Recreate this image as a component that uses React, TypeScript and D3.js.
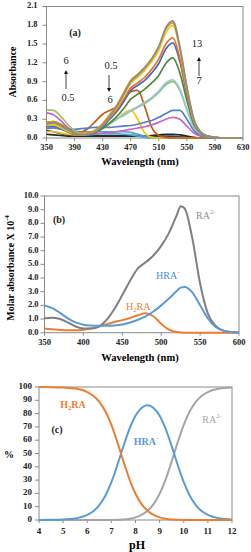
import * as d3 from 'd3'

// ---- panel (a): absorbance spectra at different pH ----
const WL_A = [350, 360, 370, 380, 390, 400, 410, 420, 430, 440, 450, 460, 470, 480, 490, 500, 510, 520, 530, 540, 550, 560, 570, 580, 590, 600, 610, 620, 630]
const A_X_TICKS = [350, 390, 430, 470, 510, 550, 590, 630]
const A_Y_TICKS = [0, 0.3, 0.6, 0.9, 1.2, 1.5, 1.8, 2.1]

const ABS_NAVY = [0.12, 0.1, 0.07, 0.05, 0.04, 0.04, 0.04, 0.04, 0.04, 0.04, 0.04, 0.04, 0.04, 0.04, 0.03, 0.03, 0.03, 0.03, 0.03, 0.02, 0.01, 0, 0, 0, 0, 0, 0, 0, 0]
const ABS_BLACK = [0.06, 0.05, 0.04, 0.03, 0.03, 0.03, 0.03, 0.03, 0.03, 0.03, 0.03, 0.03, 0.03, 0.03, 0.03, 0.04, 0.05, 0.06, 0.06, 0.05, 0.03, 0.01, 0, 0, 0, 0, 0, 0, 0]
const ABS_TEAL = [0.2, 0.2, 0.15, 0.1, 0.06, 0.05, 0.05, 0.06, 0.07, 0.07, 0.07, 0.06, 0.05, 0.03, 0.01, 0, 0, 0, 0, 0, 0, 0, 0, 0, 0, 0, 0, 0, 0]
const ABS_SKY = [0.18, 0.17, 0.14, 0.12, 0.11, 0.1, 0.1, 0.1, 0.1, 0.1, 0.1, 0.1, 0.09, 0.06, 0.03, 0.01, 0, 0, 0, 0, 0, 0, 0, 0, 0, 0, 0, 0, 0]
const ABS_GOLD_ACID = [0.1, 0.1, 0.08, 0.06, 0.05, 0.05, 0.07, 0.1, 0.15, 0.22, 0.3, 0.39, 0.44, 0.3, 0.08, 0.01, 0, 0, 0, 0, 0, 0, 0, 0, 0, 0, 0, 0, 0]
const ABS_BROWN = [0.25, 0.26, 0.22, 0.15, 0.1, 0.1, 0.16, 0.27, 0.38, 0.44, 0.5, 0.6, 0.74, 0.76, 0.5, 0.17, 0.04, 0.01, 0, 0, 0, 0, 0, 0, 0, 0, 0, 0, 0]
const ABS_PINK = [0.4, 0.37, 0.28, 0.17, 0.1, 0.06, 0.06, 0.07, 0.08, 0.09, 0.1, 0.12, 0.14, 0.16, 0.18, 0.21, 0.25, 0.3, 0.33, 0.3, 0.19, 0.08, 0.03, 0.01, 0, 0, 0, 0, 0]
const ABS_MIDBLUE = [0.15, 0.16, 0.15, 0.14, 0.14, 0.15, 0.16, 0.17, 0.17, 0.17, 0.18, 0.19, 0.2, 0.22, 0.25, 0.28, 0.33, 0.39, 0.44, 0.44, 0.3, 0.12, 0.04, 0.01, 0, 0, 0, 0, 0]
const ABS_LGREEN = [0.45, 0.44, 0.35, 0.22, 0.12, 0.07, 0.08, 0.11, 0.16, 0.23, 0.3, 0.36, 0.43, 0.49, 0.55, 0.63, 0.73, 0.85, 0.9, 0.76, 0.45, 0.17, 0.06, 0.02, 0.01, 0, 0, 0, 0]
const ABS_LBLUE = [0.22, 0.22, 0.17, 0.11, 0.07, 0.06, 0.07, 0.1, 0.16, 0.23, 0.3, 0.37, 0.44, 0.5, 0.57, 0.65, 0.75, 0.88, 0.93, 0.78, 0.46, 0.17, 0.06, 0.02, 0.01, 0, 0, 0, 0]
const ABS_GREEN = [0.2, 0.2, 0.16, 0.1, 0.06, 0.05, 0.06, 0.09, 0.15, 0.24, 0.34, 0.47, 0.62, 0.7, 0.78, 0.88, 1.0, 1.19, 1.28, 1.04, 0.6, 0.22, 0.07, 0.02, 0.01, 0, 0, 0, 0]
const ABS_BLUE = [0.18, 0.19, 0.16, 0.1, 0.06, 0.05, 0.06, 0.1, 0.18, 0.3, 0.42, 0.58, 0.76, 0.84, 0.92, 1.04, 1.19, 1.42, 1.52, 1.22, 0.7, 0.25, 0.08, 0.03, 0.01, 0, 0, 0, 0]
const ABS_ORANGE = [0.24, 0.25, 0.2, 0.13, 0.08, 0.06, 0.08, 0.12, 0.2, 0.32, 0.45, 0.62, 0.8, 0.88, 0.97, 1.1, 1.26, 1.5, 1.6, 1.27, 0.72, 0.26, 0.08, 0.03, 0.01, 0, 0, 0, 0]
const ABS_GOLD = [0.2, 0.21, 0.17, 0.11, 0.07, 0.05, 0.07, 0.12, 0.21, 0.34, 0.48, 0.67, 0.87, 0.97, 1.08, 1.22, 1.4, 1.68, 1.8, 1.42, 0.79, 0.28, 0.09, 0.03, 0.01, 0, 0, 0, 0]
const ABS_DGOLD = [0.25, 0.26, 0.21, 0.14, 0.08, 0.06, 0.08, 0.13, 0.23, 0.37, 0.52, 0.72, 0.92, 1.02, 1.13, 1.27, 1.46, 1.74, 1.84, 1.44, 0.8, 0.29, 0.09, 0.03, 0.01, 0, 0, 0, 0]
const ABS_GRAY = [0.22, 0.24, 0.2, 0.13, 0.07, 0.05, 0.06, 0.1, 0.2, 0.34, 0.5, 0.7, 0.9, 1.0, 1.12, 1.26, 1.46, 1.76, 1.87, 1.46, 0.82, 0.3, 0.09, 0.03, 0.01, 0, 0, 0, 0]

const SERIES_A = [
  { v: ABS_NAVY, c: '#264478' },
  { v: ABS_BLACK, c: '#262626' },
  { v: ABS_TEAL, c: '#4BACC6' },
  { v: ABS_SKY, c: '#5B9BD5' },
  { v: ABS_GOLD_ACID, c: '#FFC000' },
  { v: ABS_BROWN, c: '#C55A11' },
  { v: ABS_PINK, c: '#C864C8' },
  { v: ABS_MIDBLUE, c: '#4F7FD0' },
  { v: ABS_LGREEN, c: '#9BC35A' },
  { v: ABS_LBLUE, c: '#92C5E6' },
  { v: ABS_GREEN, c: '#4E8A35' },
  { v: ABS_BLUE, c: '#3F6BC0' },
  { v: ABS_ORANGE, c: '#E8702A' },
  { v: ABS_GOLD, c: '#F5C518' },
  { v: ABS_DGOLD, c: '#D09A12' },
  { v: ABS_GRAY, c: '#8C8C8C' },
]

// ---- panel (b): molar absorbance of species ----
const WL_B = [350, 360, 370, 380, 390, 400, 410, 420, 430, 440, 450, 460, 470, 480, 490, 500, 510, 520, 525, 530, 540, 550, 560, 570, 580, 590, 600]
const B_X_TICKS = [350, 400, 450, 500, 550, 600]
const B_Y_TICKS = [0, 1, 2, 3, 4, 5, 6, 7, 8, 9, 10]
const EPS_RA = [1.05, 1.1, 1.0, 0.75, 0.45, 0.3, 0.3, 0.45, 0.95, 1.75, 2.75, 3.8, 4.7, 5.15, 5.65, 6.35, 7.3, 8.6, 9.25, 9.1, 6.9, 3.6, 1.4, 0.5, 0.15, 0.05, 0.02]
const EPS_HRA = [2.0, 1.8, 1.45, 1.05, 0.75, 0.58, 0.52, 0.5, 0.5, 0.53, 0.6, 0.75, 0.95, 1.2, 1.55, 2.0, 2.5, 3.05, 3.3, 3.35, 2.95, 2.0, 1.05, 0.42, 0.15, 0.05, 0.02]
const EPS_H2RA = [0.3, 0.25, 0.2, 0.18, 0.18, 0.22, 0.3, 0.45, 0.62, 0.78, 0.92, 1.08, 1.28, 1.42, 1.2, 0.65, 0.22, 0.05, 0.02, 0, 0, 0, 0, 0, 0, 0, 0]

// ---- panel (c): species distribution ----
const PH = [4, 4.5, 5, 5.5, 6, 6.25, 6.5, 6.75, 7, 7.25, 7.5, 7.75, 8, 8.25, 8.5, 8.75, 9, 9.25, 9.5, 9.75, 10, 10.25, 10.5, 10.75, 11, 11.5, 12]
const C_X_TICKS = [4, 5, 6, 7, 8, 9, 10, 11, 12]
const C_Y_TICKS = [0, 10, 20, 30, 40, 50, 60, 70, 80, 90, 100]
const PCT_H2RA = [100, 99.9, 99.6, 98.8, 96.2, 93.4, 88.8, 81.7, 71.5, 58.4, 44.1, 30.6, 19.7, 11.9, 6.9, 3.8, 2.0, 1.0, 0.4, 0.2, 0.07, 0.03, 0.01, 0, 0, 0, 0]
const PCT_HRA = [0.04, 0.1, 0.4, 1.2, 3.8, 6.6, 11.2, 18.3, 28.4, 41.4, 55.5, 68.5, 78.4, 84.3, 86.3, 84.3, 78.4, 68.5, 55.5, 41.4, 28.4, 18.3, 11.2, 6.6, 3.8, 1.2, 0.4]
const PCT_RA = [0, 0, 0, 0, 0, 0, 0, 0.03, 0.07, 0.2, 0.4, 1.0, 2.0, 3.8, 6.9, 11.9, 19.7, 30.6, 44.1, 58.4, 71.5, 81.7, 88.8, 93.4, 96.2, 98.8, 99.6]

const FONT = 'Liberation Serif, DejaVu Serif, serif'
const FRAME = '#8a8a8a'
const ORANGE = '#ED7D31'
const BLUE = '#5B9BD5'
const GRAY = '#A5A5A5'

type Scale = d3.ScaleLinear<number, number>

function Axes({ x, y, xTicks, yTicks, yFmt, fs, yGap, xGap }: {
  x: Scale; y: Scale; xTicks: number[]; yTicks: number[]; yFmt: (v: number) => string; fs: number; yGap: number; xGap: number
}) {
  const [x0, x1] = x.range()
  const [y0, y1] = y.range()
  return (
    <g style={{ fontFamily: FONT }} fontWeight="bold" fontSize={fs} fill="#222">
      <rect x={x0} y={y1} width={x1 - x0} height={y0 - y1} fill="none" stroke={FRAME} strokeWidth={1} />
      {yTicks.map((t) => (
        <g key={'y' + t}>
          <line x1={x0 - 4} x2={x0} y1={y(t)} y2={y(t)} stroke={FRAME} />
          <text x={x0 - yGap} y={y(t)} textAnchor="end" dominantBaseline="middle">{yFmt(t)}</text>
        </g>
      ))}
      {xTicks.map((t) => (
        <g key={'x' + t}>
          <line x1={x(t)} x2={x(t)} y1={y0} y2={y0 + 3} stroke={FRAME} />
          <text x={x(t)} y={y0 + xGap} textAnchor="middle" dominantBaseline="middle">{t}</text>
        </g>
      ))}
    </g>
  )
}

export default function App() {
  // panel (a)
  const xA = d3.scaleLinear().domain([350, 630]).range([46.5, 243])
  const yA = d3.scaleLinear().domain([0, 2.1]).range([138, 6.5])
  const lineA = (v: number[]) =>
    d3.line<number>().x((_, i) => xA(WL_A[i])).y((d) => yA(d)).curve(d3.curveMonotoneX)(v) ?? ''

  // panel (b)
  const xB = d3.scaleLinear().domain([350, 600]).range([44.5, 239])
  const yB = d3.scaleLinear().domain([0, 10]).range([332.7, 196])
  const lineB = (v: number[]) =>
    d3.line<number>().x((_, i) => xB(WL_B[i])).y((d) => yB(d)).curve(d3.curveMonotoneX)(v) ?? ''

  // panel (c)
  const xC = d3.scaleLinear().domain([4, 12]).range([39, 232])
  const yC = d3.scaleLinear().domain([0, 100]).range([520, 387])
  const lineC = (v: number[]) =>
    d3.line<number>().x((_, i) => xC(PH[i])).y((d) => yC(d)).curve(d3.curveMonotoneX)(v) ?? ''

  const fmt1 = d3.format('.1f')
  const serif = { fontFamily: FONT }

  return (
    <svg width={251} height={552} style={{ position: 'absolute', left: 0, top: 0, background: '#fff' }}>
      <defs>
        <marker id="ah" viewBox="0 0 10 10" refX="5" refY="5" markerWidth="5" markerHeight="5" orient="auto-start-reverse">
          <path d="M0,0 L10,5 L0,10 z" fill="#111" />
        </marker>
      </defs>

      {/* (a) */}
      <Axes x={xA} y={yA} xTicks={A_X_TICKS} yTicks={A_Y_TICKS} yFmt={fmt1} fs={8.5} yGap={9} xGap={10} />
      <g fill="none" strokeWidth={1.7} strokeLinejoin="round">
        {SERIES_A.map((s, i) => <path key={i} d={lineA(s.v)} stroke={s.c} />)}
      </g>
      <g style={serif} fontSize={10.5} fill="#222">
        <text x={75} y={34} fontWeight="bold" fontSize={10} textAnchor="middle" dominantBaseline="middle">(a)</text>
        <text x={66} y={62} textAnchor="middle" dominantBaseline="middle">6</text>
        <line x1={66} x2={66} y1={89} y2={72} stroke="#111" strokeWidth={0.8} markerEnd="url(#ah)" />
        <text x={68} y={99} textAnchor="middle" dominantBaseline="middle">0.5</text>
        <text x={111} y={67} textAnchor="middle" dominantBaseline="middle">0.5</text>
        <line x1={109} x2={109} y1={75} y2={90} stroke="#111" strokeWidth={0.8} markerEnd="url(#ah)" />
        <text x={110} y={101} textAnchor="middle" dominantBaseline="middle">6</text>
        <text x={197} y={45} textAnchor="middle" dominantBaseline="middle">13</text>
        <line x1={199} x2={199} y1={76} y2={59} stroke="#111" strokeWidth={0.8} markerEnd="url(#ah)" />
        <text x={199} y={82} textAnchor="middle" dominantBaseline="middle">7</text>
      </g>
      <text x={140} y={163} style={serif} fontWeight="bold" fontSize={10.5} textAnchor="middle" dominantBaseline="middle">Wavelength (nm)</text>
      <text transform="translate(14,72) rotate(-90)" style={serif} fontWeight="bold" fontSize={10} textAnchor="middle" dominantBaseline="middle">Absorbance</text>

      {/* (b) */}
      <Axes x={xB} y={yB} xTicks={B_X_TICKS} yTicks={B_Y_TICKS} yFmt={fmt1} fs={8.5} yGap={6} xGap={10.5} />
      <g fill="none" strokeWidth={2} strokeLinejoin="round">
        <path d={lineB(EPS_H2RA)} stroke={ORANGE} />
        <path d={lineB(EPS_RA)} stroke="#7F7F7F" />
        <path d={lineB(EPS_HRA)} stroke={BLUE} />
      </g>
      <g style={serif} fontSize={10}>
        <text x={59} y={221} fontWeight="bold" fill="#222" textAnchor="middle" dominantBaseline="middle">(b)</text>
        <text x={196} y={217} fill="#8c8c8c" dominantBaseline="middle">RA<tspan fontSize={6.5} dy={-4}>2-</tspan></text>
        <text x={156} y={277} fill="#3f8fd6" dominantBaseline="middle">HRA<tspan fontSize={6.5} dy={-4}>-</tspan></text>
        <text x={126} y={308} fill={ORANGE} dominantBaseline="middle">H<tspan fontSize={6.5} dy={2.5}>2</tspan><tspan dy={-2.5}>RA</tspan></text>
      </g>
      <text x={140} y={359} style={serif} fontWeight="bold" fontSize={10.5} textAnchor="middle" dominantBaseline="middle">Wavelength (nm)</text>
      <text transform="translate(12,268) rotate(-90)" style={serif} fontWeight="bold" fontSize={10} textAnchor="middle" dominantBaseline="middle">
        Molar absorbance X 10<tspan fontSize={6.5} dy={-4}>-4</tspan>
      </text>

      {/* (c) */}
      <Axes x={xC} y={yC} xTicks={C_X_TICKS} yTicks={C_Y_TICKS} yFmt={(v) => String(v)} fs={9} yGap={7} xGap={12} />
      <g fill="none" strokeWidth={2} strokeLinejoin="round">
        <path d={lineC(PCT_RA)} stroke={GRAY} />
        <path d={lineC(PCT_HRA)} stroke={BLUE} />
        <path d={lineC(PCT_H2RA)} stroke={ORANGE} />
      </g>
      <g style={serif} fontSize={10} fontWeight="bold">
        <text x={73} y={406} fill={ORANGE} textAnchor="middle" dominantBaseline="middle">H<tspan fontSize={6.5} dy={2.5}>2</tspan><tspan dy={-2.5}>RA</tspan></text>
        <text x={57} y={431} fill="#222" textAnchor="middle" dominantBaseline="middle">(c)</text>
        <text x={146} y={443} fill={BLUE} textAnchor="middle" dominantBaseline="middle">HRA<tspan fontSize={6.5} dy={-4}>-</tspan></text>
        <text x={212} y={421} fill={GRAY} fontWeight="normal" textAnchor="middle" dominantBaseline="middle">RA<tspan fontSize={6.5} dy={-4}>2-</tspan></text>
      </g>
      <text x={137} y={546} style={serif} fontWeight="bold" fontSize={12} textAnchor="middle" dominantBaseline="middle">pH</text>
      <text x={9} y={456} style={serif} fontWeight="bold" fontSize={10} textAnchor="middle" dominantBaseline="middle">%</text>
    </svg>
  )
}
